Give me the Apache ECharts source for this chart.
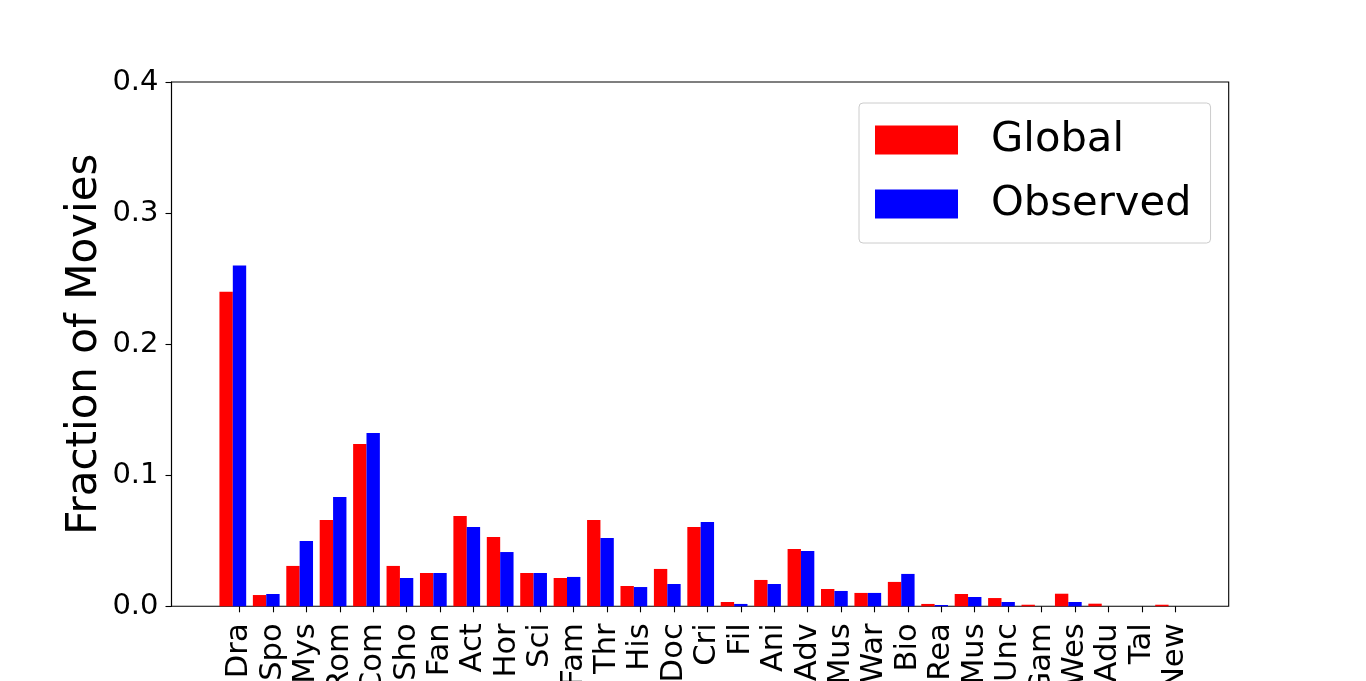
<!DOCTYPE html>
<html>
<head>
<meta charset="utf-8">
<title>Fraction of Movies</title>
<script src="https://cdn.jsdelivr.net/npm/echarts@6/dist/echarts.min.js"></script>
<style>
  html, body { margin: 0; padding: 0; background: #fff; }
  #main { width: 1366px; height: 681px; }
</style>
</head>
<body>
<div id="main"></div>
<script>
var genres = ['Dra', 'Spo', 'Mys', 'Rom', 'Com', 'Sho', 'Fan', 'Act', 'Hor', 'Sci',
  'Fam', 'Thr', 'His', 'Doc', 'Cri', 'Fil', 'Ani', 'Adv', 'Mus', 'War',
  'Bio', 'Rea', 'Mus', 'Unc', 'Gam', 'Wes', 'Adu', 'Tal', 'New'];
var globalFrac = [0.240, 0.0086, 0.0308, 0.0659, 0.1239, 0.0308, 0.0254, 0.0689, 0.0529, 0.0254,
  0.0216, 0.0659, 0.0155, 0.0285, 0.0605, 0.0033, 0.0201, 0.0437, 0.0132, 0.0102,
  0.0186, 0.0018, 0.0094, 0.0063, 0.0012, 0.0096, 0.0020, 0, 0.0012];
var observedFrac = [0.260, 0.0094, 0.0498, 0.0834, 0.1323, 0.0216, 0.0254, 0.0605, 0.0414, 0.0254,
  0.0224, 0.0521, 0.0147, 0.0170, 0.0643, 0.0018, 0.0170, 0.0422, 0.0117, 0.0102,
  0.0247, 0.0010, 0.0071, 0.0033, 0, 0.0033, 0, 0, 0];
var yTicks = [0, 0.1, 0.2, 0.3, 0.4];

$init();
function $init(){
	var chart = echarts.init(document.getElementById('main'));
	var font = 'DejaVu Sans';

	// plot box in px, matplotlib margins make the categories narrower than the frame
	var boxLeft = 171.5, boxTop = 82, boxW = 1057.2, boxH = 524.3;
	var step = 33.42;
	var firstTick = 239.5;
	var labelLeft = firstTick - step / 2;
	var barLeft = labelLeft - step * 0.2;
	var bandW = step * genres.length;

	var hiddenY = function(grid){
		return { type: 'value', gridIndex: grid, min: yTicks[0], max: yTicks[yTicks.length - 1], show: false };
	};

	chart.setOption({
		animation: false,
		backgroundColor: '#fff',
		textStyle: { fontFamily: font },
		grid: [
			{ left: boxLeft, top: boxTop, width: boxW, height: boxH, show: true, outerBoundsMode: 'none',
			  borderColor: '#000', borderWidth: 1.1, backgroundColor: 'transparent' },
			{ left: barLeft, top: boxTop, width: bandW, height: boxH, outerBoundsMode: 'none' },
			{ left: labelLeft, top: boxTop, width: bandW, height: boxH, outerBoundsMode: 'none' }
		],
		legend: {
			orient: 'vertical',
			left: 859, top: 103,
			padding: [16, 19, 18, 16],
			itemWidth: 83, itemHeight: 29, itemGap: 22,
			icon: 'rect',
			backgroundColor: 'rgba(255,255,255,0.8)',
			borderColor: '#cccccc', borderWidth: 1, borderRadius: 4,
			textStyle: { fontFamily: font, fontSize: 41.7, color: '#000', padding: [0, 0, 0, 28] },
			data: ['Global', 'Observed']
		},
		xAxis: [
			{ type: 'value', gridIndex: 0, min: 0, max: 1, show: false },
			{ type: 'category', gridIndex: 1, data: genres, show: false },
			{ type: 'category', gridIndex: 2, data: genres, position: 'bottom',
			  axisLine: { show: false },
			  axisTick: { show: true, inside: false, alignWithLabel: true, interval: 0, length: 6,
			              lineStyle: { color: '#000', width: 1.1 } },
			  axisLabel: { interval: 0, rotate: 90, margin: 17, fontFamily: font,
			               fontSize: 30.6, color: '#000' } }
		],
		yAxis: [
			{ type: 'value', gridIndex: 0, min: 0, max: 0.4, interval: 0.1,
			  name: 'Fraction of Movies', nameLocation: 'middle', nameGap: 65, nameMoveOverlap: false,
			  nameTextStyle: { fontFamily: font, fontSize: 42, color: '#000' },
			  splitLine: { show: false },
			  axisLine: { show: true, lineStyle: { color: '#000', width: 1.1 } },
			  axisTick: { show: true, length: 6, lineStyle: { color: '#000', width: 1.1 } },
			  axisLabel: { margin: 13, fontFamily: font, fontSize: 29, color: '#000',
			               formatter: function (v) { return v.toFixed(1); } } },
			hiddenY(1),
			hiddenY(2)
		],
		series: [
			{ name: 'Global', type: 'bar', xAxisIndex: 1, yAxisIndex: 1,
			  barWidth: step * 0.4, barGap: '0%', itemStyle: { color: '#ff0000' },
			  data: globalFrac },
			{ name: 'Observed', type: 'bar', xAxisIndex: 1, yAxisIndex: 1,
			  barWidth: step * 0.4, barGap: '0%', itemStyle: { color: '#0000ff' },
			  data: observedFrac }
		]
	});
}
</script>
</body>
</html>
